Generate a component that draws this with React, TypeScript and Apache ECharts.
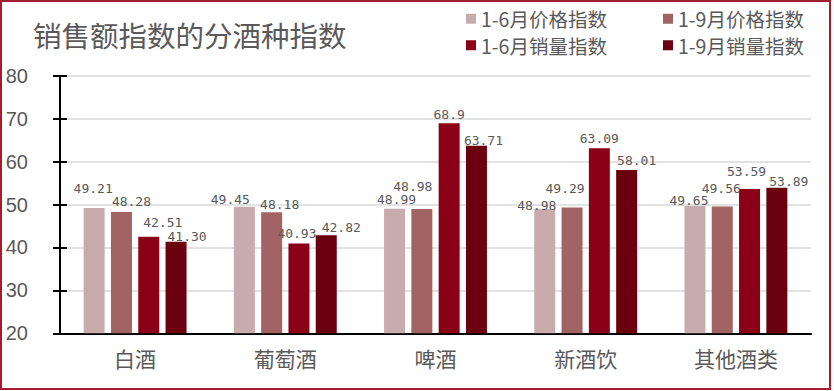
import React, { useEffect, useRef } from "react";
import * as echarts from "echarts";

// ---- data (display strings keep the original number formatting) ----
const categories = ["白酒", "葡萄酒", "啤酒", "新酒饮", "其他酒类"];
const seriesNames = ["1-6月价格指数", "1-9月价格指数", "1-6月销量指数", "1-9月销量指数"];
const price16 = ["49.21", "49.45", "48.99", "48.98", "49.65"];
const price19 = ["48.28", "48.18", "48.98", "49.29", "49.56"];
const volume16 = ["42.51", "40.93", "68.9", "63.09", "53.59"];
const volume19 = ["41.30", "42.82", "63.71", "58.01", "53.89"];
const yTicks = { min: 20, max: 80, interval: 10 };

// ---- styling ----
const colors = ["#c8abad", "#a16363", "#8b0016", "#6b000f"];
// hand-placed label nudges [dx, dy] from the default "top" placement (as in the source)
const labelNudge = [
  [[-1, -8], [-14, 4], [2, 2], [-8, 8], [-6, 6]],
  [[10, 1], [8, 4], [-9, -11], [-7, -8], [-1, -6]],
  [[14, -3], [-2, 2], [0, 3], [0, 2], [-3, -6]],
  [[11, 6], [15, 4], [7, 6], [10, 2], [12, 5]],
];

const GRAY = "#595959";

export default function App() {
  const ref = useRef<HTMLDivElement>(null);

  useEffect(() => {
    if (!ref.current) return;
    const chart = echarts.init(ref.current, undefined, { renderer: "svg" });
    const all = [price16, price19, volume16, volume19];

    const series = all.map((arr, si) => ({
      name: seriesNames[si],
      type: "bar",
      barWidth: 21,
      barGap: "30%",
      itemStyle: { color: colors[si] },
      data: arr.map((s, ci) => ({
        value: Number(s),
        label: { offset: labelNudge[si][ci] },
      })),
      label: {
        show: true,
        position: "top",
        distance: 5,
        color: GRAY,
        fontSize: 13,
        fontFamily: "DejaVu Sans Mono",
        formatter: (p: any) => all[si][p.dataIndex],
      },
    }));

    const legendBase = {
      orient: "vertical",
      top: 9,
      padding: 0,
      itemGap: 7,
      itemWidth: 10,
      itemHeight: 10,
      icon: "rect",
      textStyle: { color: GRAY, fontSize: 19.5, fontFamily: "Noto Sans CJK SC" },
    };

    chart.setOption({
      animation: false,
      backgroundColor: "#ffffff",
      title: {
        text: "销售额指数的分酒种指数",
        left: 33,
        top: 20,
        padding: 0,
        textStyle: {
          color: GRAY,
          fontSize: 28.5,
          fontWeight: "normal",
          fontFamily: "Noto Sans CJK SC",
        },
      },
      legend: [
        { ...legendBase, data: [seriesNames[0], seriesNames[2]], left: 466 },
        { ...legendBase, data: [seriesNames[1], seriesNames[3]], left: 663 },
      ],
      grid: { left: 60, right: 23, top: 75.7, bottom: 57.7, containLabel: false },
      xAxis: {
        type: "category",
        data: categories,
        axisLine: { show: true, lineStyle: { color: "#000", width: 2 } },
        axisTick: { show: false },
        axisLabel: {
          color: GRAY,
          fontSize: 21,
          margin: 14,
          fontFamily: "Noto Sans CJK SC",
        },
      },
      yAxis: [
        {
          type: "value",
          ...yTicks,
          position: "left",
          axisLine: { show: true, lineStyle: { color: "#000", width: 2 } },
          axisTick: { show: true, length: 7, lineStyle: { color: "#000", width: 2 } },
          axisLabel: {
            color: GRAY,
            fontSize: 20,
            margin: 32,
            fontFamily: "Liberation Sans",
          },
          splitLine: { show: true, lineStyle: { color: "#d9d9d9", width: 1.5 } },
        },
        {
          type: "value",
          ...yTicks,
          position: "left",
          axisLine: { show: false },
          axisTick: { show: true, inside: true, length: 7, lineStyle: { color: "#000", width: 2 } },
          axisLabel: { show: false },
          splitLine: { show: false },
        },
      ],
      series,
      graphic: [
        {
          type: "rect",
          shape: { x: 1, y: 1, width: 829, height: 388 },
          style: { fill: "none", stroke: "#a31d2c", lineWidth: 2 },
          silent: true,
          z: 100,
        },
      ],
    });

    return () => chart.dispose();
  }, []);

  return (
    <div
      ref={ref}
      style={{ position: "fixed", left: 0, top: 0, width: 834, height: 391, background: "#fff" }}
    />
  );
}
